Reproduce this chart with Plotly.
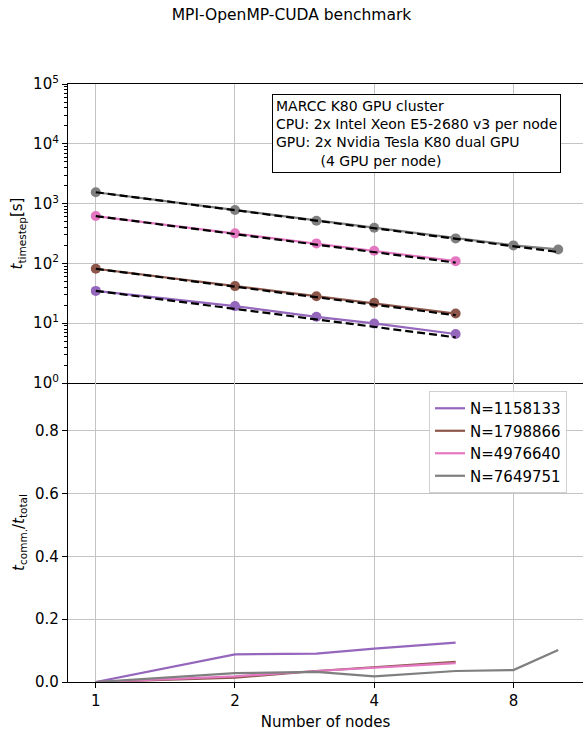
import plotly.graph_objects as go
from plotly.subplots import make_subplots

# ---- data ----
nodes_small = [1, 2, 3, 4, 6]
nodes_large = [1, 2, 3, 4, 6, 8, 10]

series_names = ["N=1158133", "N=1798866", "N=4976640", "N=7649751"]
series_colors = ["#9467bd", "#8c564b", "#e377c2", "#7f7f7f"]

t_1158133 = [34.7, 19.3, 12.8, 9.9, 6.6]
t_1798866 = [81.3, 41.7, 28.3, 21.9, 14.5]
t_4976640 = [619, 318, 216, 163, 109]
t_7649751 = [1550, 781, 517, 395, 262, 200, 171]

ideal_1158133 = [34.7, 17.4, 11.6, 8.7, 5.8]
ideal_1798866 = [81.3, 40.7, 27.1, 20.3, 13.6]
ideal_4976640 = [619, 310, 206, 155, 103]
ideal_7649751 = [1550, 775, 517, 388, 258, 194, 155]

comm_1158133 = [0.0, 0.088, 0.090, 0.106, 0.125]
comm_1798866 = [0.0, 0.014, 0.035, 0.047, 0.064]
comm_4976640 = [0.0, 0.018, 0.035, 0.045, 0.060]
comm_7649751 = [0.0, 0.028, 0.032, 0.018, 0.035, 0.038, 0.102]

x_tick_vals = [1, 2, 4, 8]
x_tick_text = ["1", "2", "4", "8"]
y_top_vals = [1, 10, 100, 1000, 10000, 100000]
y_top_text = ["10<sup>0</sup>", "10<sup>1</sup>", "10<sup>2</sup>",
              "10<sup>3</sup>", "10<sup>4</sup>", "10<sup>5</sup>"]
y_bot_vals = [0.0, 0.2, 0.4, 0.6, 0.8]

annotation_text = ("MARCC K80 GPU cluster<br>"
                   "CPU: 2x Intel Xeon E5-2680 v3 per node<br>"
                   "GPU: 2x Nvidia Tesla K80 dual GPU<br>"
                   + "\u00a0" * 10 + "(4 GPU per node)")

xs = [nodes_small, nodes_small, nodes_small, nodes_large]
ts = [t_1158133, t_1798866, t_4976640, t_7649751]
ideals = [ideal_1158133, ideal_1798866, ideal_4976640, ideal_7649751]
comms = [comm_1158133, comm_1798866, comm_4976640, comm_7649751]

FONT = "DejaVu Sans"

fig = make_subplots(rows=2, cols=1, shared_xaxes=True, vertical_spacing=0)

for x, t, c, name in zip(xs, ts, series_colors, series_names):
    fig.add_trace(go.Scatter(x=x, y=t, mode="lines+markers", name=name,
                             line=dict(color=c, width=2.2),
                             marker=dict(color=c, size=10),
                             showlegend=False), row=1, col=1)
for x, ideal in zip(xs, ideals):
    fig.add_trace(go.Scatter(x=x, y=ideal, mode="lines",
                             line=dict(color="black", width=2.2, dash="8px,4px"),
                             showlegend=False, hoverinfo="skip"), row=1, col=1)
for x, cm, c, name in zip(xs, comms, series_colors, series_names):
    fig.add_trace(go.Scatter(x=x, y=cm, mode="lines", name=name,
                             line=dict(color=c, width=2.2)), row=2, col=1)

grid = "#c4c4c4"
xcommon = dict(type="log", range=[-0.0601, 1.0536], tickvals=x_tick_vals,
               ticktext=x_tick_text, showgrid=True, gridcolor=grid, gridwidth=1,
               showline=True, linecolor="black", linewidth=1.2, zeroline=False)

fig.update_xaxes(**xcommon, row=1, col=1)
fig.update_xaxes(showticklabels=False, mirror=True, ticks="", row=1, col=1)
fig.update_xaxes(**xcommon, row=2, col=1)
fig.update_xaxes(ticks="outside", ticklen=5, tickwidth=1.2, tickcolor="black",
                 title=dict(text="Number of nodes", standoff=7,
                            font=dict(family=FONT, size=15, color="black")),
                 tickfont=dict(family=FONT, size=15, color="black"), row=2, col=1)

fig.update_yaxes(type="log", range=[0, 5], tickvals=y_top_vals, ticktext=y_top_text,
                 showgrid=True, gridcolor=grid, gridwidth=1,
                 showline=True, linecolor="black", linewidth=1.2,
                 ticks="outside", ticklen=5, tickwidth=1.2, tickcolor="black",
                 minor=dict(ticks="outside", ticklen=3, tickwidth=1, tickcolor="black",
                            dtick="D1", showgrid=False),
                 tickfont=dict(family=FONT, size=15, color="black"),
                 title=dict(text="<i>t</i><sub>timestep</sub>[s]", standoff=6,
                            font=dict(family=FONT, size=15, color="black")),
                 zeroline=False, row=1, col=1)

fig.update_yaxes(range=[0, 0.9515], tickvals=y_bot_vals, tickformat=".1f",
                 showgrid=True, gridcolor=grid, gridwidth=1,
                 showline=True, linecolor="black", linewidth=1.2,
                 ticks="outside", ticklen=5, tickwidth=1.2, tickcolor="black",
                 tickfont=dict(family=FONT, size=15, color="black"),
                 title=dict(text="<i>t</i><sub>comm.</sub>/<i>t</i><sub>total</sub>", standoff=6,
                            font=dict(family=FONT, size=15, color="black")),
                 zeroline=False, row=2, col=1)

fig.update_layout(
    width=583, height=731,
    margin=dict(l=68, r=0, t=84, b=49),
    paper_bgcolor="white", plot_bgcolor="white",
    font=dict(family=FONT, size=15, color="black"),
    title=dict(text="MPI-OpenMP-CUDA benchmark", x=0.5, xanchor="center",
               y=0.988, yanchor="top", font=dict(family=FONT, size=15.5, color="black")),
    legend=dict(x=0.701, xanchor="left", y=0.4866, yanchor="top",
                bgcolor="rgba(255,255,255,0.9)", bordercolor="#d0d0d0", borderwidth=1,
                font=dict(family=FONT, size=15, color="black"), itemwidth=30),
    annotations=[dict(text=annotation_text, xref="paper", yref="paper",
                      x=0.3955, y=0.983, xanchor="left", yanchor="top",
                      align="left", showarrow=False,
                      font=dict(family=FONT, size=14, color="black"),
                      bordercolor="black", borderwidth=1, borderpad=3,
                      bgcolor="white")],
)

fig.write_html("out.html")
